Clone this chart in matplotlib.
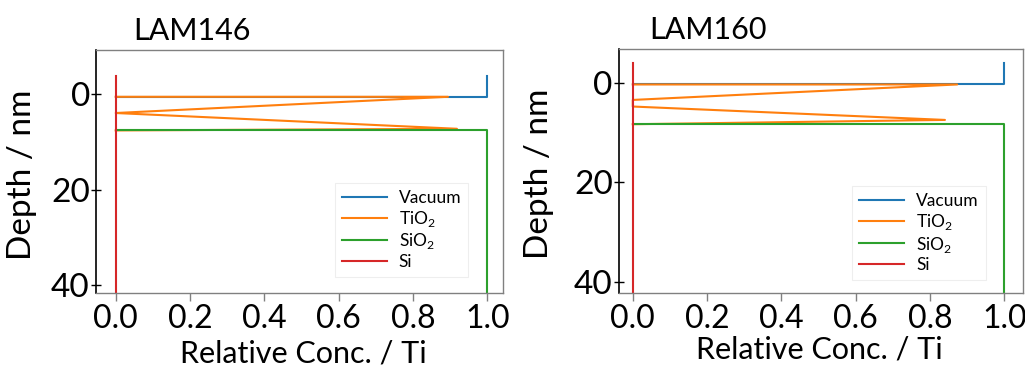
import matplotlib
matplotlib.use("Agg")
import matplotlib.pyplot as plt

plt.rcParams['font.family'] = ['Lato', 'DejaVu Sans']
plt.rcParams['mathtext.fontset'] = 'custom'
plt.rcParams['mathtext.rm'] = 'Lato'

# Layer concentration profiles (relative concentration vs depth in nm)
labels = ["Vacuum", r"TiO$_2$", r"SiO$_2$", "Si"]
colors = ["#1f77b4", "#ff7f0e", "#2ca02c", "#d62728"]

# LAM146
lam146_vac_depth = [-3.8, 0.5, 0.5]
lam146_vac_conc = [1.0, 1.0, 0.0]
lam146_tio2_depth = [0.5, 0.5, 3.9, 7.2, 7.55]
lam146_tio2_conc = [0.0, 0.894, 0.0, 0.918, 0.0]
lam146_sio2_depth = [7.55, 7.55, 45.0]
lam146_sio2_conc = [0.0, 1.0, 1.0]
lam146_si_depth = [-3.8, 45.0]
lam146_si_conc = [0.0, 0.0]

# LAM160
lam160_vac_depth = [-4.15, 0.25, 0.25]
lam160_vac_conc = [1.0, 1.0, 0.0]
lam160_tio2_depth = [0.25, 0.25, 3.37, 4.7, 7.4, 8.27]
lam160_tio2_conc = [0.0, 0.873, 0.0, 0.0, 0.84, 0.0]
lam160_sio2_depth = [8.27, 8.27, 45.0]
lam160_sio2_conc = [0.0, 1.0, 1.0]
lam160_si_depth = [-4.15, 45.0]
lam160_si_conc = [0.0, 0.0]

x_ticks = [0.0, 0.2, 0.4, 0.6, 0.8, 1.0]
y_ticks = [0, 20, 40]

W, H = 1025, 367
fig = plt.figure(figsize=(W / 100, H / 100), dpi=100)


def px_axes(x0, y0, x1, y1):
    return fig.add_axes([x0 / W, 1 - y1 / H, (x1 - x0) / W, (y1 - y0) / H])


panels = [
    dict(title="LAM146", box=(96, 50, 503, 293), xlim=(-0.053, 1.042), ylim=(41.6, -9.3),
         series=[(lam146_vac_conc, lam146_vac_depth), (lam146_tio2_conc, lam146_tio2_depth),
                 (lam146_sio2_conc, lam146_sio2_depth), (lam146_si_conc, lam146_si_depth)],
         title_x=0.091, leg_anchor=(0.915, 0.066),
         ylab_xy=(-0.145, 0.486), xlab_xy=(0.51, -0.19)),
    dict(title="LAM160", box=(619, 49, 1023, 293), xlim=(-0.037, 1.05), ylim=(42.3, -6.9),
         series=[(lam160_vac_conc, lam160_vac_depth), (lam160_tio2_conc, lam160_tio2_depth),
                 (lam160_sio2_conc, lam160_sio2_depth), (lam160_si_conc, lam160_si_depth)],
         title_x=0.074, leg_anchor=(0.908, 0.053),
         ylab_xy=(-0.161, 0.49), xlab_xy=(0.496, -0.175)),
]

for p in panels:
    ax = px_axes(*p["box"])
    for (conc, depth), lab, col in zip(p["series"], labels, colors):
        ax.plot(conc, depth, color=col, lw=1.5, label=lab)
    ax.set_xlim(*p["xlim"])
    ax.set_ylim(*p["ylim"])
    ax.set_xticks(x_ticks)
    ax.set_xticklabels([f"{v:.1f}" for v in x_ticks])
    ax.set_yticks(y_ticks)
    for side in ("top", "right", "bottom"):
        ax.spines[side].set_color("#808080")
        ax.spines[side].set_linewidth(1.0)
    ax.spines["left"].set_color("black")
    ax.spines["left"].set_linewidth(1.2)
    ax.tick_params(axis="x", direction="out", length=6, width=1.0, color="#808080",
                   labelsize=23, pad=2)
    ax.tick_params(axis="y", direction="inout", length=7, width=1.0, color="black",
                   labelsize=24, pad=1)
    ax.set_xlabel("Relative Conc. / Ti", fontsize=22)
    ax.set_ylabel("Depth / nm", fontsize=24)
    ax.xaxis.set_label_coords(*p["xlab_xy"])
    ax.yaxis.set_label_coords(*p["ylab_xy"])
    ax.text(p["title_x"], 1.04, p["title"], transform=ax.transAxes, fontsize=22,
            ha="left", va="baseline")
    leg = ax.legend(loc="lower right", bbox_to_anchor=p["leg_anchor"], borderaxespad=0,
                    fontsize=12.5, handlelength=2.6, handletextpad=0.7, labelspacing=0.15,
                    frameon=True, fancybox=False, framealpha=1, edgecolor="#eeeeee")
    leg.get_frame().set_linewidth(0.8)

fig.savefig("out.png", dpi=100)
